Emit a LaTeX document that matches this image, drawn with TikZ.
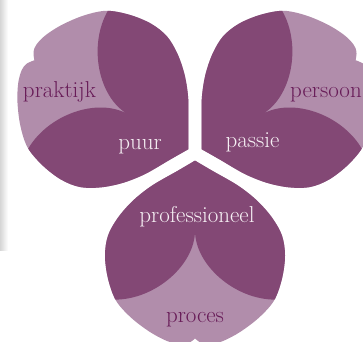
\documentclass[tikz,border=0pt]{standalone}
\usepackage{fontspec}
\definecolor{petaldark}{RGB}{131,72,117}
\definecolor{petallight}{RGB}{177,141,171}
\definecolor{inkdark}{RGB}{104,28,88}
\definecolor{inklight}{RGB}{246,240,244}
\tikzset{
  petal/.pic={
    \fill[petallight]
      plot[smooth,tension=0.55] coordinates {(0,7.6) (17,17.6) (43,32.6) (62,47.6) (77,64.6) (87,82.6) (90,102.6) (87,125.6) (79,147.6) (64,164.6) (45,179) (28,188) (15,191.5) (7,190.5) (0,185.5)}
      -- plot[smooth,tension=0.55] coordinates {(0,185.5) (-7,190.5) (-15,191.5) (-28,188) (-45,179) (-64,164.6) (-79,147.6) (-87,125.6) (-90,102.6) (-87,82.6) (-77,64.6) (-62,47.6) (-43,32.6) (-17,17.6) (0,7.6)}
      -- cycle;
    \begin{scope}
      \clip
        plot[smooth,tension=0.55] coordinates {(0,7.6) (17,17.6) (43,32.6) (62,47.6) (77,64.6) (87,82.6) (90,102.6) (87,125.6) (79,147.6) (64,164.6) (45,179) (28,188) (15,191.5) (7,190.5) (0,185.5)}
        -- plot[smooth,tension=0.55] coordinates {(0,185.5) (-7,190.5) (-15,191.5) (-28,188) (-45,179) (-64,164.6) (-79,147.6) (-87,125.6) (-90,102.6) (-87,82.6) (-77,64.6) (-62,47.6) (-43,32.6) (-17,17.6) (0,7.6)}
        -- cycle;
      \fill[petaldark] (0,77.6) .. controls (0,112) and (40,146.6) .. (80,146.6)
        -- (140,146.6) -- (140,-20) -- (-140,-20) -- (-140,146.6) -- (-80,146.6)
        .. controls (-40,146.6) and (0,112) .. (0,77.6) -- cycle;
    \end{scope}
  },
  lbl/.style={font=\fontsize{23}{23}\selectfont, inner sep=0pt, anchor=base},
  onlight/.style={lbl, text=inkdark},
  ondark/.style={lbl, text=inklight}
}
\begin{document}
\begin{tikzpicture}[x=1pt,y=-1pt]
  \useasboundingbox (0,0) rectangle (363,341);
  \fill[white] (0,0) rectangle (363,341);
  \shade[left color=black!16, right color=white] (0,0) rectangle (8,250);
  \pic[rotate=-120] at (195,153) {petal};
  \pic[rotate=120] at (195,153) {petal};
  \pic at (195,153) {petal};
  \node[onlight] (praktijk) at (59.5,97) {praktijk};
  \node[ondark] (puur) at (140,149) {puur};
  \node[ondark] (passie) at (252.5,147) {passie};
  \node[onlight, anchor=base west] (persoon) at (290,97) {persoon};
  \node[ondark] (professioneel) at (197,222) {professioneel};
  \node[onlight] (proces) at (195,322) {proces};
\end{tikzpicture}
\end{document}
